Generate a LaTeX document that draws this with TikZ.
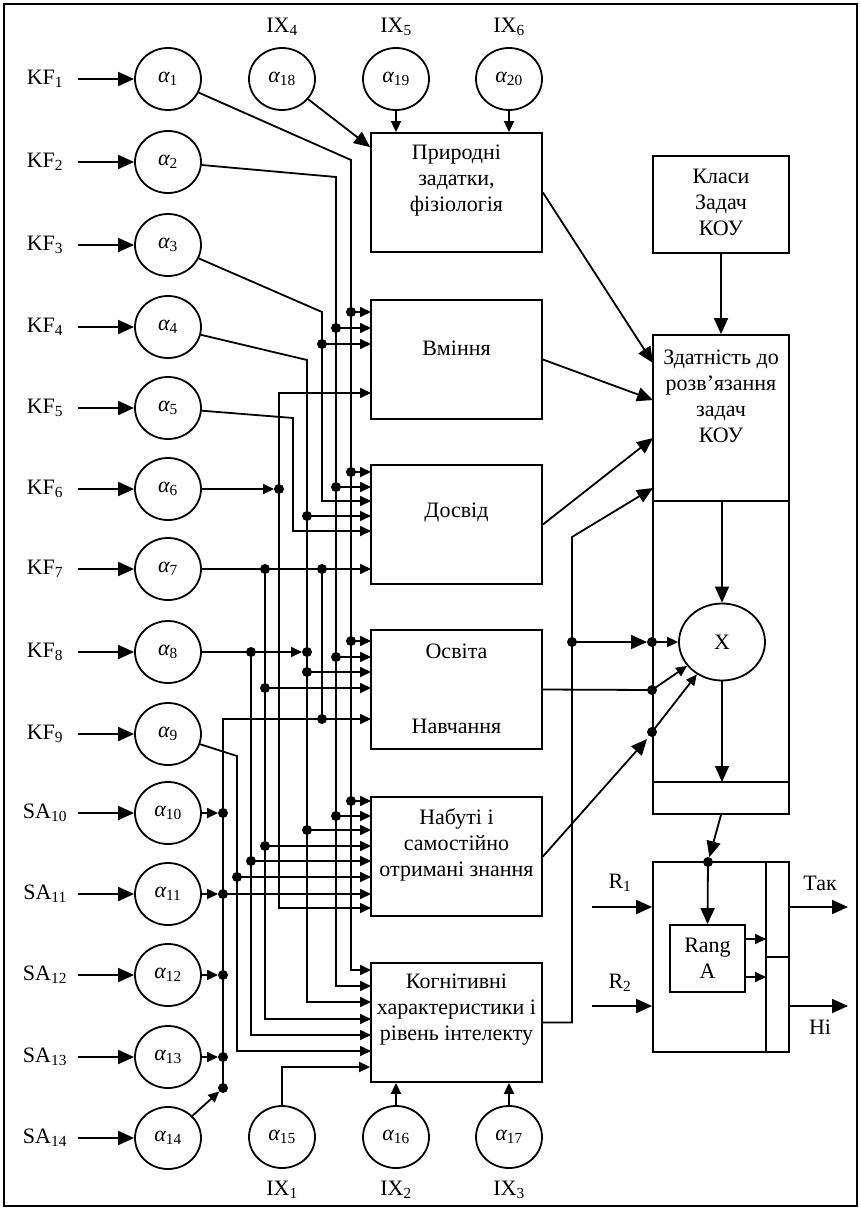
\documentclass[tikz,border=0pt]{standalone}
\usepackage{fontspec}
\setmainfont{Liberation Serif}
\usetikzlibrary{arrows.meta,positioning,shapes.geometric}
\newcommand\alx[1]{{\itshape α}\textsubscript{#1}}

\begin{document}
\begin{tikzpicture}[
  x=1pt,y=-1pt,
  line width=1.8pt,
  font=\fontsize{22}{26}\selectfont,
  circ/.style={draw,ellipse,minimum width=66pt,minimum height=62pt,inner sep=0pt},
  blk/.style={draw,minimum width=171pt,minimum height=119pt,inner sep=0pt},
  txt/.style={align=center,inner sep=0pt},
  big/.style={-{Triangle[length=16pt,width=14pt]}},
  sml/.style={-{Triangle[length=11pt,width=10pt]}}
]
  \useasboundingbox (0,0) rectangle (861,1210);
  \draw[line width=2pt] (4,4) rectangle (857,1206);

  % inputs on the left
  \foreach \i/\nm/\yy in {1/KF/79,2/KF/162,3/KF/245,4/KF/327,5/KF/408,6/KF/489,7/KF/569,
      8/KF/652,9/KF/734,10/SA/813,11/SA/894,12/SA/975,13/SA/1057,14/SA/1138}{
    \node[circ] (a\i) at (168,\yy) {\alx{\i}};
    \node (n\i) at (45,\yy) {\nm\textsubscript{\i}};
    \draw[big] (78,\yy) -- (a\i);
  }
  \foreach \i/\xx/\k in {18/282/4,19/396/5,20/509/6}{
    \node[circ] (a\i) at (\xx,79) {\alx{\i}};
    \node (t\k) at (\xx,27) {IX\textsubscript{\k}};
  }
  \foreach \i/\xx/\k in {15/282/1,16/396/2,17/509/3}{
    \node[circ] (a\i) at (\xx,1137) {\alx{\i}};
    \node (b\k) at (\xx,1190) {IX\textsubscript{\k}};
  }

  % blocks
  \node[blk] (prir) at (456.5,192.5) {};
  \node[blk] (vmin) at (456.5,359.5) {};
  \node[blk] (dosv) at (456.5,524.5) {};
  \node[blk] (osv)  at (456.5,689.5) {};
  \node[blk] (nab)  at (456.5,856.5) {};
  \node[blk] (kog)  at (456.5,1022.5) {};
  \node[txt] (prirT) at ([yshift=11.5pt]prir.center) {Природні\\задатки,\\фізіологія};
  \node[txt] (vminT) at ([yshift=11.5pt]vmin.center) {Вміння};
  \node[txt] (dosvT) at ([yshift=11.5pt]dosv.center) {Досвід};
  \node[txt] (osvT)  at ([yshift=38pt]osv.center) {Освіта};
  \node[txt] (osvB)  at ([yshift=-37pt]osv.center) {Навчання};
  \node[txt] (nabT)  at ([yshift=11.5pt]nab.center) {Набуті і\\самостійно\\отримані знання};
  \node[txt] (kogT)  at ([yshift=12.5pt]kog.center) {Когнітивні\\характеристики і\\рівень інтелекту};

  \node[draw,minimum width=136pt,minimum height=97pt,inner sep=0pt] (klas) at (721,204.5) {};
  \node[txt] (klasT) at ([yshift=2.5pt]klas.center) {Класи\\Задач\\КОУ};
  \node[draw,minimum width=136pt,minimum height=479pt,inner sep=0pt] (zd) at (721,574.5) {};
  \draw (zd.west |- 0,501) -- (zd.east |- 0,501);
  \draw (zd.west |- 0,782) -- (zd.east |- 0,782);
  \node[txt] (zdT) at (721,396) {Здатність до\\розв’язання\\задач\\КОУ};
  \node[draw,ellipse,minimum width=86pt,minimum height=77pt,inner sep=0pt] (xx) at (722,642) {X};

  \node[draw,minimum width=136pt,minimum height=190pt,inner sep=0pt] (dec) at (721,957) {};
  \draw (766,862) -- (766,1052);
  \draw (766,957) -- (dec.east |- 0,957);
  \node[draw,txt,minimum width=75pt,minimum height=67pt] (rang) at (707.5,958.5) {Rang\\A};

  % top inputs
  \draw[big] (a18) -- ([yshift=-15pt]prir.north west);
  \draw[sml] (a19) -- (a19 |- prir.north);
  \draw[sml] (a20) -- (a20 |- prir.north);
  % bottom inputs
  \draw[sml] (a15) |- (kog.west |- 0,1067);
  \draw[sml] (a16) -- (a16 |- kog.south);
  \draw[sml] (a17) -- (a17 |- kog.south);

  % bus lines
  \draw[sml] (a1) -- (351,160) |- (371,970);
  \draw[sml] (a2) -- (336,177) |- (371,986);
  \draw[sml] (a3) -- (322,312) |- (371,501);
  \draw[sml] (a4) -- (307,360) |- (371,1002);
  \draw[sml] (a5) -- (293,418) |- (371,531);
  \draw[sml] (a6) -- (274,489);
  \draw[sml] (279,489) |- (371,393);
  \draw[sml] (279,489) |- (371,908);
  \draw[sml] (a7) -- (371,569);
  \draw (322,569) -- (322,719);
  \draw[sml] (265,569) |- (371,1019);
  \draw[sml] (a8) -- (302,652);
  \draw[sml] (251,652) |- (371,1035);
  \draw[sml] (a9) -- (237,756) |- (371,1051);
  \draw[sml] (223,1088) |- (371,719);
  \foreach \i/\yy in {10/813,11/894,12/975,13/1057}{
    \draw[sml,shorten >=5pt] (a\i) -- (223,\yy);
    \fill (223,\yy) circle[radius=5pt];
  }
  \draw[sml,shorten >=5pt] (a14) -- (223,1088);
  \draw[sml] (223,894) -- (371,894);
  \foreach \xx/\yy in {351/312,336/328,322/344,351/472,336/487,307/516,
      351/641,336/657,307/672,265/688,351/801,336/816,307/830,265/846,251/861,237/877}{
    \fill (\xx,\yy) circle[radius=5pt];
    \draw[sml] (\xx,\yy) -- (371,\yy);
  }
  \foreach \xx/\yy in {279/489,265/569,322/569,251/652,307/652,322/719,223/1088,
      572/642,652/642,652/690,652/732}{
    \fill (\xx,\yy) circle[radius=5pt];
  }

  % right part
  \draw[big] (prir.east) -- (653,363);
  \draw[big] (vmin.east) -- (653,400);
  \draw[big] (dosv.east) -- (653,438);
  \draw[big] (kog.east) -| (572,537) -- (653,488);
  \draw[big] (572,642) -- (647,642);
  \draw[sml] (652,642) -- (xx);
  \draw (osv.east) -- (652,690);
  \draw[sml] (652,690) -- (xx);
  \draw[big] (nab.east) -- (647,739);
  \draw[sml] (652,732) -- (xx);
  \draw[big] (klas.south) -- (zd.north);
  \draw[big] (xx.north |- 0,501) -- (xx.north);
  \draw[big] (xx.south) -- (xx.south |- 0,782);

  \coordinate (dp) at (708,862);
  \draw[big,shorten >=5pt] (zd.south) -- (dp);
  \fill (dp) circle[radius=5pt];
  \draw[big] (dp) -- (rang.north);
  \draw[sml] (rang.east |- 0,939) -- (766,939);
  \draw[sml] (rang.east |- 0,977) -- (766,977);

  \draw[big] (592,907) -- (dec.west |- 0,907);
  \draw[big] (592,1006) -- (dec.west |- 0,1006);
  \draw[big] (dec.east |- 0,907) -- (848,907);
  \draw[big] (dec.east |- 0,1006) -- (848,1006);
  \node (r1) at (620,883) {R\textsubscript{1}};
  \node (r2) at (620,983) {R\textsubscript{2}};
  \node (yes) at (820,883) {Так};
  \node (no) at (820,1027) {Ні};
\end{tikzpicture}
\end{document}
